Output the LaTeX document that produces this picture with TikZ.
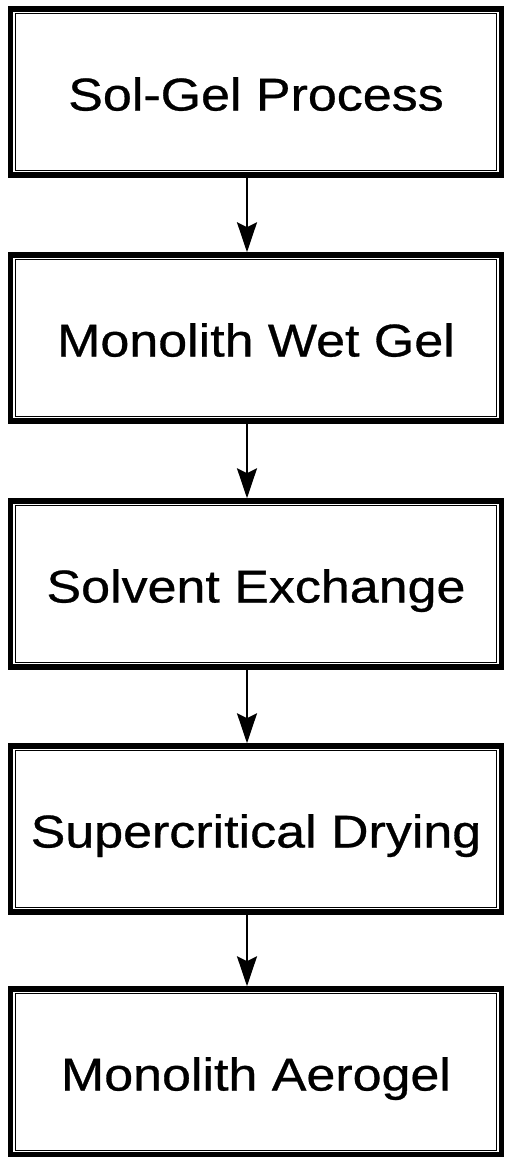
\documentclass[tikz,border=0pt]{standalone}
\usepackage{fontspec}
\setmainfont{Liberation Sans}
\newfontfamily\stagefont[FakeBold=0.6]{Liberation Sans}
\usetikzlibrary{arrows.meta}

\tikzset{
  stage/.style={draw=black, line width=5.5pt, rectangle, inner sep=0pt,
    minimum width=491pt, minimum height=166pt,
    text height=37pt, text depth=0pt,
    font=\stagefont\fontsize{46pt}{52pt}\selectfont},
  inner frame/.style={draw=black, line width=1.3pt},
  flow/.style={draw=black, line width=2.4pt,
    -{Stealth[length=30pt, width=20pt, inset=5pt]}}
}
\newcommand{\wide}[1]{\scalebox{1.13}[1]{#1}}

\begin{document}
\begin{tikzpicture}[x=1pt, y=1pt]
  \useasboundingbox[fill=white] (0,0) rectangle (504,-1157);

  % process stages, top to bottom
  \node[stage] (b1) at (256, -92)  {\wide{Sol-Gel Process}};
  \node[stage] (b2) at (256, -338) {\wide{Monolith Wet Gel}};
  \node[stage] (b3) at (256, -584) {\wide{Solvent Exchange}};
  \node[stage] (b4) at (256, -829) {\wide{Supercritical Drying}};
  \node[stage] (b5) at (256, -1072) {\wide{Monolith Aerogel}};

  % thin inner line of each double frame
  \foreach \n in {b1,b2,b3,b4,b5}
    \draw[inner frame] ([shift={(7.5pt,7.5pt)}]\n.south west)
      rectangle ([shift={(-7.5pt,-7.5pt)}]\n.north east);

  % arrows between stages
  \draw[flow] ([xshift=-9pt]b1.south) -- ([xshift=-9pt]b2.north);
  \draw[flow] ([xshift=-9pt]b2.south) -- ([xshift=-9pt]b3.north);
  \draw[flow] ([xshift=-9pt]b3.south) -- ([xshift=-9pt]b4.north);
  \draw[flow] ([xshift=-9pt]b4.south) -- ([xshift=-9pt]b5.north);
\end{tikzpicture}
\end{document}
